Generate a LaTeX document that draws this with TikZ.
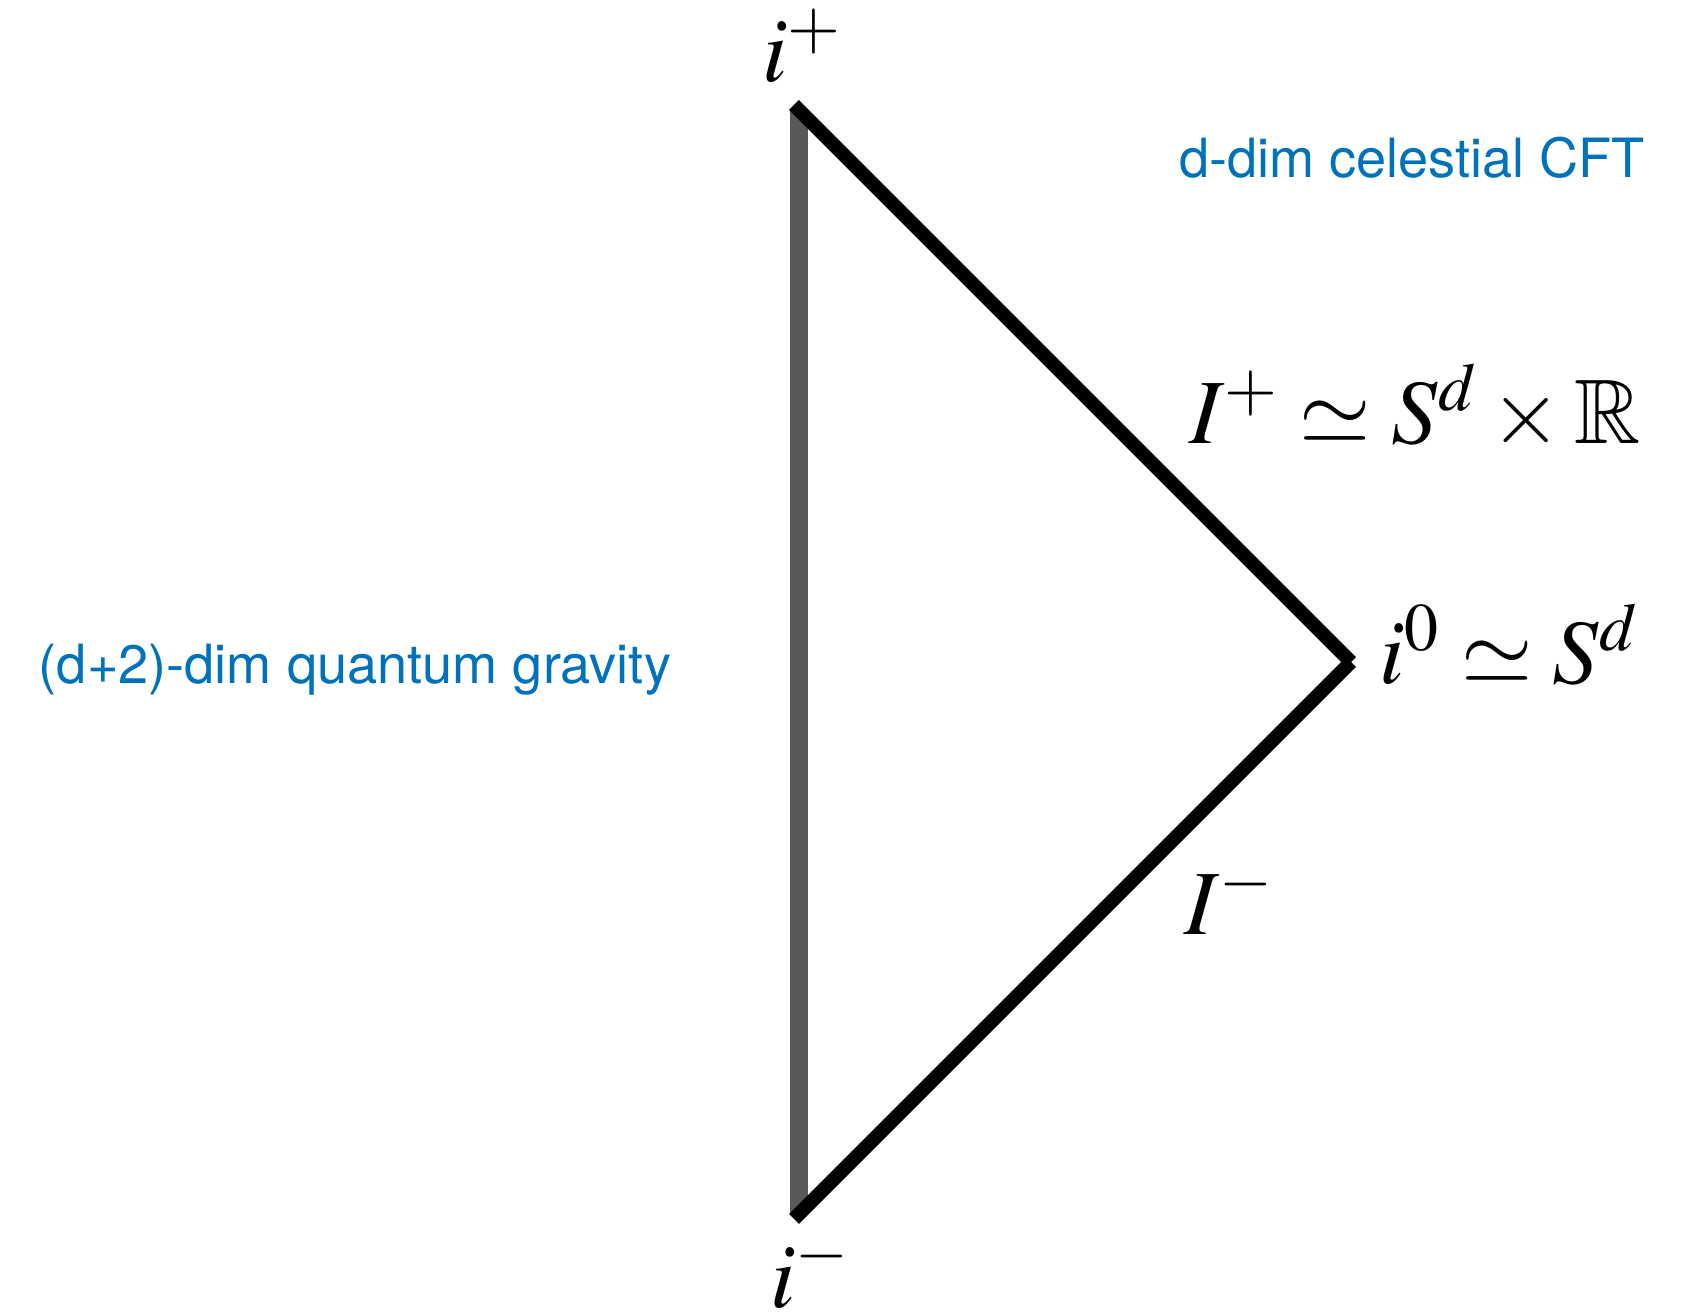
\documentclass[tikz,border=0pt]{standalone}
\usepackage{mathptmx}
\usepackage{amsmath,amssymb}
\usepackage[no-math]{fontspec}
\newfontfamily\helv{TeX Gyre Heros}
\definecolor{celblue}{RGB}{0,114,188}

\begin{document}
\begin{tikzpicture}[x=1cm,y=1cm,
  mathlbl/.style={font=\fontsize{26.1}{30}\selectfont, inner sep=0pt, anchor=base},
  bluelbl/.style={font=\helv\fontsize{15.4}{18}\selectfont, text=celblue, inner sep=0pt, anchor=base},
  nullbdry/.style={line width=4pt, line cap=butt}]

\useasboundingbox (0,0) rectangle (16.9,13.11);

\coordinate (ip) at (7.94,12.06);
\coordinate (i0) at (13.51,6.49);
\coordinate (im) at (7.94,0.92);
\coordinate (gtop) at (7.99,12.0);
\coordinate (gbot) at (7.99,0.98);

\draw[line width=5.1pt, black!65] (gbot) -- (gtop);

\draw[nullbdry] (ip) -- (i0);
\draw[nullbdry] (i0) -- (im);

\node[mathlbl] (lip) at (8.02,12.29) {$i^+$};
\node[mathlbl] (lim) at (8.10,0.04) {$i^-$};
\node[mathlbl] (lIp) at (14.15,8.67) {$I^+\simeq S^d\times\mathbb{R}$};
\node[mathlbl] (li0) at (15.09,6.27) {$i^0\simeq S^d$};
\node[mathlbl] (lIm) at (12.29,3.76) {$I^-$};

\node[bluelbl] (qg) at (3.55,6.27) {(d+2)-dim quantum gravity};
\node[bluelbl] (cft) at (14.12,11.33) {d-dim celestial CFT};

\end{tikzpicture}
\end{document}
